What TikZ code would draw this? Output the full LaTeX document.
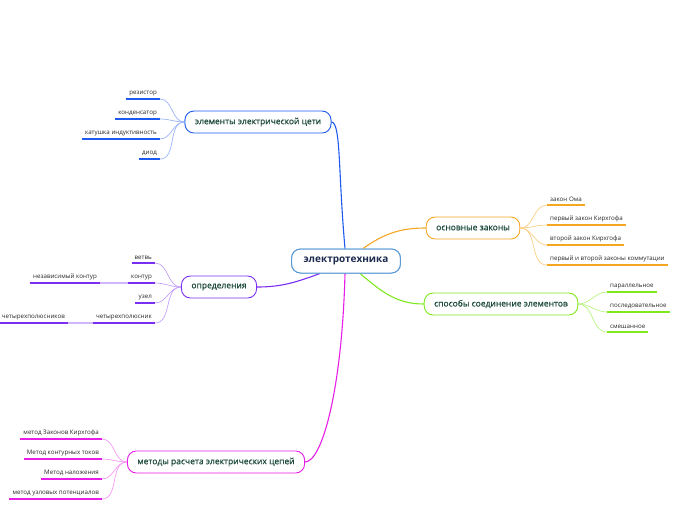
\documentclass[tikz,border=0pt]{standalone}
\usepackage{fontspec}
\setmainfont{Open Sans}
\newfontfamily\topicfont[FakeBold=0.6]{Open Sans}
\usepackage{xcolor}
\usetikzlibrary{positioning}

\definecolor{rootblue}{RGB}{90,155,213}
\definecolor{rootink}{RGB}{27,42,78}
\definecolor{topicink}{RGB}{29,74,60}
\definecolor{leafink}{RGB}{40,40,40}
\definecolor{elblue}{RGB}{30,90,240}
\definecolor{laworange}{RGB}{245,166,35}
\definecolor{joingreen}{RGB}{128,232,30}
\definecolor{defpurple}{RGB}{122,47,240}
\definecolor{calcmagenta}{RGB}{230,30,230}

\begin{document}
\begin{tikzpicture}[x=1pt, y=-1pt,
    root/.style={rectangle, draw=rootblue, fill=white, line width=1pt, rounded corners=9pt, minimum height=24pt, inner xsep=12pt, font=\fontsize{10}{12}\selectfont\bfseries, text=rootink},
    topic/.style={rectangle, draw=#1, fill=white, line width=0.9pt, rounded corners=9pt, minimum height=22pt, inner xsep=10pt, font=\topicfont\fontsize{8.5}{10}\selectfont, text=topicink},
    leaf/.style={inner xsep=3pt, inner ysep=3pt, font=\fontsize{6.2}{7}\selectfont, text=leafink},
    ul/.style={draw=#1, line width=1.6pt},
    link/.style={draw=#1, line width=1.1pt},
    twig/.style={draw=#1, line width=0.7pt}
]
\useasboundingbox (0,0) rectangle (696,520);

% Root and main topics
\node[root] (root) at (346,261) {электротехника};
\node[topic=elblue] (elem) at (258,122) {элементы электрической цети};
\node[topic=laworange] (laws) at (473,228) {основные законы};
\node[topic=joingreen] (join) at (501,304) {способы соединение элементов};
\node[topic=defpurple] (defs) at (219,287) {определения};
\node[topic=calcmagenta] (meth) at (216,462) {методы расчета электрических цепей};

% Elements of the circuit
\node[leaf, anchor=south east] (res) at (160,99) {резистор};
\node[leaf, anchor=south east] (cap) at (160,119) {конденсатор};
\node[leaf, anchor=south east] (coil) at (160,139) {катушка индуктивность};
\node[leaf, anchor=south east] (diode) at (160,159) {диод};

% Basic laws
\node[leaf, anchor=south west] (ohm) at (547,205) {закон Ома};
\node[leaf, anchor=south west] (kirA) at (547,225) {первый закон Кирхгофа};
\node[leaf, anchor=south west] (kirB) at (547,245) {второй закон Кирхгофа};
\node[leaf, anchor=south west] (comm) at (547,265) {первый и второй законы коммутации};

% Ways of connecting
\node[leaf, anchor=south west] (par) at (607,292) {параллельное};
\node[leaf, anchor=south west] (ser) at (607,312) {последовательное};
\node[leaf, anchor=south west] (mix) at (607,332) {смешанное};

% Definitions
\node[leaf, anchor=south east] (branch) at (155,263) {ветвь};
\node[leaf, anchor=south east] (loop) at (155,283) {контур};
\node[leaf, anchor=south east] (indep) at (100,283) {независимый контур};
\node[leaf, anchor=south east] (knot) at (155,303) {узел};
\node[leaf, anchor=south east] (quad) at (155,323) {четырехполюсник};
\node[leaf, anchor=south east] (quads) at (68,323) {четырехполюсников};

% Calculation methods
\node[leaf, anchor=south east] (mK) at (102,439) {метод Законов Кирхгофа};
\node[leaf, anchor=south east] (mL) at (102,459) {Метод контурных токов};
\node[leaf, anchor=south east] (mS) at (102,479) {Метод наложения};
\node[leaf, anchor=south east] (mN) at (102,499) {метод узловых потенциалов};

% Root connectors
\draw[link=elblue] ([xshift=-1pt]root.north) .. controls (338,170) and (341,123) .. (elem.east);
\draw[link=laworange] ([xshift=17pt]root.north) to[out=35, in=180] (laws.west);
\draw[link=joingreen] ([xshift=14pt]root.south) to[out=-40, in=180] (join.west);
\draw[link=defpurple] ([xshift=-26pt]root.south) to[out=200, in=0] (defs.east);
\draw[link=calcmagenta] ([xshift=-1pt]root.south) .. controls (342,390) and (322,462) .. (meth.east);

% Twigs to leaves
\foreach \n in {res,cap,coil,diode}
  \draw[twig=elblue!45] (elem.west) to[out=180, in=0] (\n.south east);
\foreach \n in {ohm,kirA,kirB,comm}
  \draw[twig=laworange!55] (laws.east) to[out=0, in=180] (\n.south west);
\foreach \n in {par,ser,mix}
  \draw[twig=joingreen!55] (join.east) to[out=0, in=180] (\n.south west);
\foreach \n in {branch,loop,knot,quad}
  \draw[twig=defpurple!45] (defs.west) to[out=180, in=0] (\n.south east);
\foreach \n in {mK,mL,mS,mN}
  \draw[twig=calcmagenta!45] (meth.west) to[out=180, in=0] (\n.south east);
\draw[twig=defpurple!35, line width=1.4pt] (loop.south west) -- (indep.south east);
\draw[twig=defpurple!35, line width=1.4pt] (quad.south west) -- (quads.south east);

% Underlines
\foreach \n in {res,cap,coil,diode}
  \draw[ul=elblue] (\n.south west) -- (\n.south east);
\foreach \n in {ohm,kirA,kirB,comm}
  \draw[ul=laworange] (\n.south west) -- (\n.south east);
\foreach \n in {par,ser,mix}
  \draw[ul=joingreen] (\n.south west) -- (\n.south east);
\foreach \n in {branch,loop,indep,knot,quad,quads}
  \draw[ul=defpurple] (\n.south west) -- (\n.south east);
\foreach \n in {mK,mL,mS,mN}
  \draw[ul=calcmagenta] (\n.south west) -- (\n.south east);

% Redraw root on top of its connectors
\node[root] at (root) {электротехника};
\end{tikzpicture}
\end{document}
